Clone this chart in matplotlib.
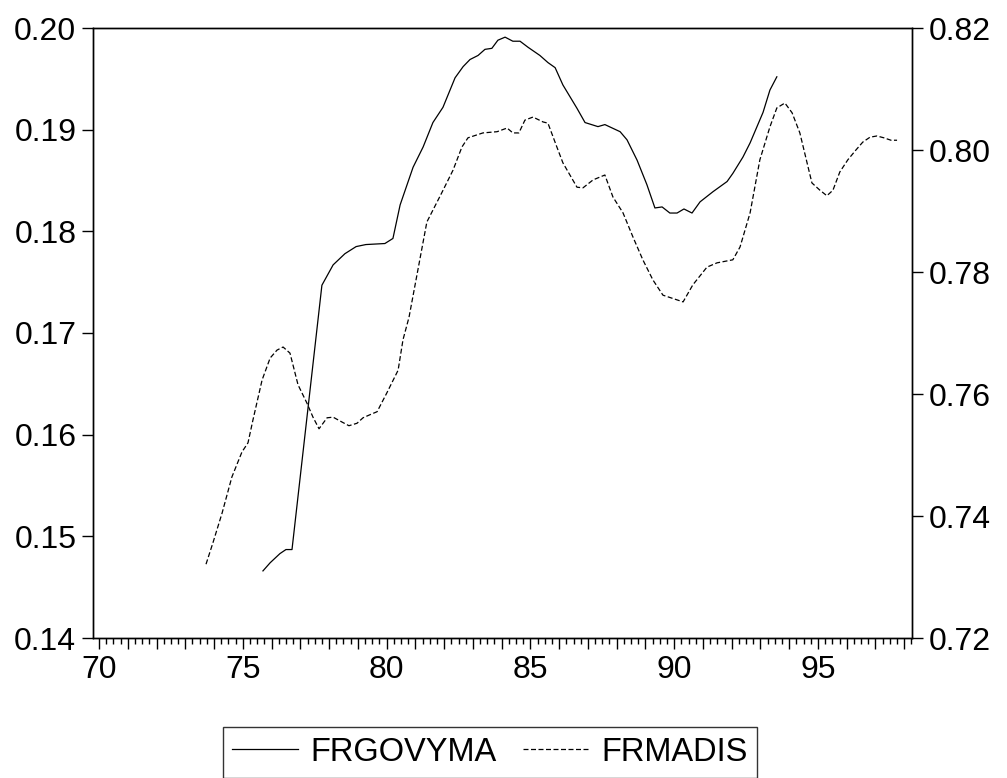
#!/usr/bin/env python

import matplotlib

matplotlib.use("Agg")
import matplotlib.pyplot as plt
from matplotlib.ticker import FixedLocator, FuncFormatter, MultipleLocator

# FRGOVYMA (left axis), dates in decimal years
gov_dates = [
    75.70, 75.95, 76.29, 76.50, 76.71, 77.75, 78.14, 78.55, 78.94, 79.28,
    79.94, 80.22, 80.47, 80.92, 81.27, 81.61, 81.96, 82.38, 82.66, 82.90,
    83.18, 83.42, 83.66, 83.87, 84.12, 84.39, 84.64, 84.92, 85.33, 85.61,
    85.86, 86.13, 86.62, 86.90, 87.35, 87.59, 88.12, 88.36, 88.71, 89.05,
    89.33, 89.58, 89.85, 90.10, 90.34, 90.62, 90.90, 91.35, 91.84, 92.04,
    92.39, 92.64, 92.88, 93.09, 93.33, 93.57,
]
gov_values = [
    0.1466, 0.1474, 0.1483, 0.1487, 0.1487, 0.1747, 0.1767, 0.1778, 0.1785, 0.1787,
    0.1788, 0.1793, 0.1826, 0.1863, 0.1883, 0.1907, 0.1922, 0.1951, 0.1962, 0.1969,
    0.1973, 0.1979, 0.1980, 0.1988, 0.1991, 0.1987, 0.1987, 0.1981, 0.1973, 0.1966,
    0.1961, 0.1944, 0.1921, 0.1907, 0.1903, 0.1905, 0.1898, 0.1890, 0.1870, 0.1846,
    0.1823, 0.1824, 0.1818, 0.1818, 0.1822, 0.1818, 0.1829, 0.1839, 0.1849, 0.1857,
    0.1873, 0.1887, 0.1903, 0.1917, 0.1939, 0.1952,
]

# FRMADIS (right axis)
madis_dates = [
    73.72, 73.96, 74.28, 74.62, 74.97, 75.18, 75.35, 75.67, 75.95, 76.19,
    76.40, 76.64, 76.92, 77.23, 77.44, 77.65, 77.93, 78.14, 78.45, 78.69,
    78.97, 79.18, 79.42, 79.67, 80.01, 80.40, 80.57, 80.78, 81.40, 81.93,
    82.31, 82.62, 82.83, 83.35, 83.84, 84.19, 84.39, 84.60, 84.81, 85.09,
    85.44, 85.61, 85.92, 86.13, 86.62, 86.83, 87.18, 87.59, 87.87, 88.22,
    88.57, 88.91, 89.26, 89.61, 90.31, 90.65, 91.14, 91.49, 92.04, 92.29,
    92.64, 92.98, 93.33, 93.57, 93.85, 94.10, 94.37, 94.79, 95.07, 95.31,
    95.52, 95.76, 96.04, 96.32, 96.56, 96.81, 97.05, 97.29, 97.54, 97.75,
]
madis_values = [
    0.7321, 0.7356, 0.7405, 0.7464, 0.7505, 0.7520, 0.7557, 0.7623, 0.7659, 0.7672,
    0.7677, 0.7667, 0.7615, 0.7585, 0.7562, 0.7543, 0.7561, 0.7562, 0.7554, 0.7548,
    0.7552, 0.7561, 0.7566, 0.7571, 0.7602, 0.7639, 0.7689, 0.7726, 0.7882, 0.7931,
    0.7967, 0.8005, 0.8020, 0.8028, 0.8030, 0.8036, 0.8028, 0.8028, 0.8049, 0.8054,
    0.8046, 0.8044, 0.8005, 0.7979, 0.7939, 0.7938, 0.7951, 0.7959, 0.7923, 0.7897,
    0.7857, 0.7820, 0.7787, 0.7762, 0.7751, 0.7779, 0.7808, 0.7815, 0.7820, 0.7841,
    0.7897, 0.7984, 0.8038, 0.8069, 0.8077, 0.8061, 0.8028, 0.7946, 0.7934, 0.7925,
    0.7934, 0.7964, 0.7984, 0.8000, 0.8013, 0.8021, 0.8023, 0.8020, 0.8016, 0.8016,
]

year_labels = [70, 75, 80, 85, 90, 95]
left_ticks = [0.14, 0.15, 0.16, 0.17, 0.18, 0.19, 0.20]
right_ticks = [0.72, 0.74, 0.76, 0.78, 0.80, 0.82]


def style_axis(ax):
    ax.tick_params(axis="both", which="major", length=8, width=1, labelsize=23, pad=4)
    ax.tick_params(axis="x", which="minor", length=4, width=1)
    for spine in ax.spines.values():
        spine.set_linewidth(1)


def plot_chart():
    plt.rcParams["font.family"] = ["Liberation Sans", "DejaVu Sans"]

    fig = plt.figure(figsize=(10.07, 7.78), dpi=100)
    ax = fig.add_axes([93 / 1007, 1 - 638 / 778, (912 - 93) / 1007, (638 - 28) / 778])
    ax2 = ax.twinx()

    (l1,) = ax.plot(gov_dates, gov_values, color="k", lw=0.9, label="FRGOVYMA")
    (l2,) = ax2.plot(madis_dates, madis_values, color="k", lw=0.9,
                     dashes=(4, 2), label="FRMADIS")

    ax.set_xlim(69.79, 98.27)
    ax.set_ylim(0.14, 0.20)
    ax2.set_ylim(0.72, 0.82)

    # yearly ticks, labels every 5 years, quarterly minor ticks
    ax.xaxis.set_major_locator(MultipleLocator(1))
    ax.xaxis.set_minor_locator(MultipleLocator(0.25))
    ax.xaxis.set_major_formatter(
        FuncFormatter(lambda v, p: f"{v:.0f}" if round(v) in year_labels else "")
    )

    ax.yaxis.set_major_locator(FixedLocator(left_ticks))
    ax.yaxis.set_major_formatter(FuncFormatter(lambda v, p: f"{v:.2f}"))
    ax2.yaxis.set_major_locator(FixedLocator(right_ticks))
    ax2.yaxis.set_major_formatter(FuncFormatter(lambda v, p: f"{v:.2f}"))

    style_axis(ax)
    style_axis(ax2)

    fig.legend(
        handles=[l1, l2],
        loc="upper center",
        bbox_to_anchor=(490 / 1007, 1 - 727 / 778),
        ncol=2,
        fontsize=23.5,
        frameon=True,
        fancybox=False,
        edgecolor="k",
        handlelength=2.0,
        handletextpad=0.4,
        columnspacing=0.8,
        borderpad=0.3,
        borderaxespad=0,
    ).get_frame().set_linewidth(1)

    fig.savefig("out.png", dpi=100)


if __name__ == "__main__":
    plot_chart()
